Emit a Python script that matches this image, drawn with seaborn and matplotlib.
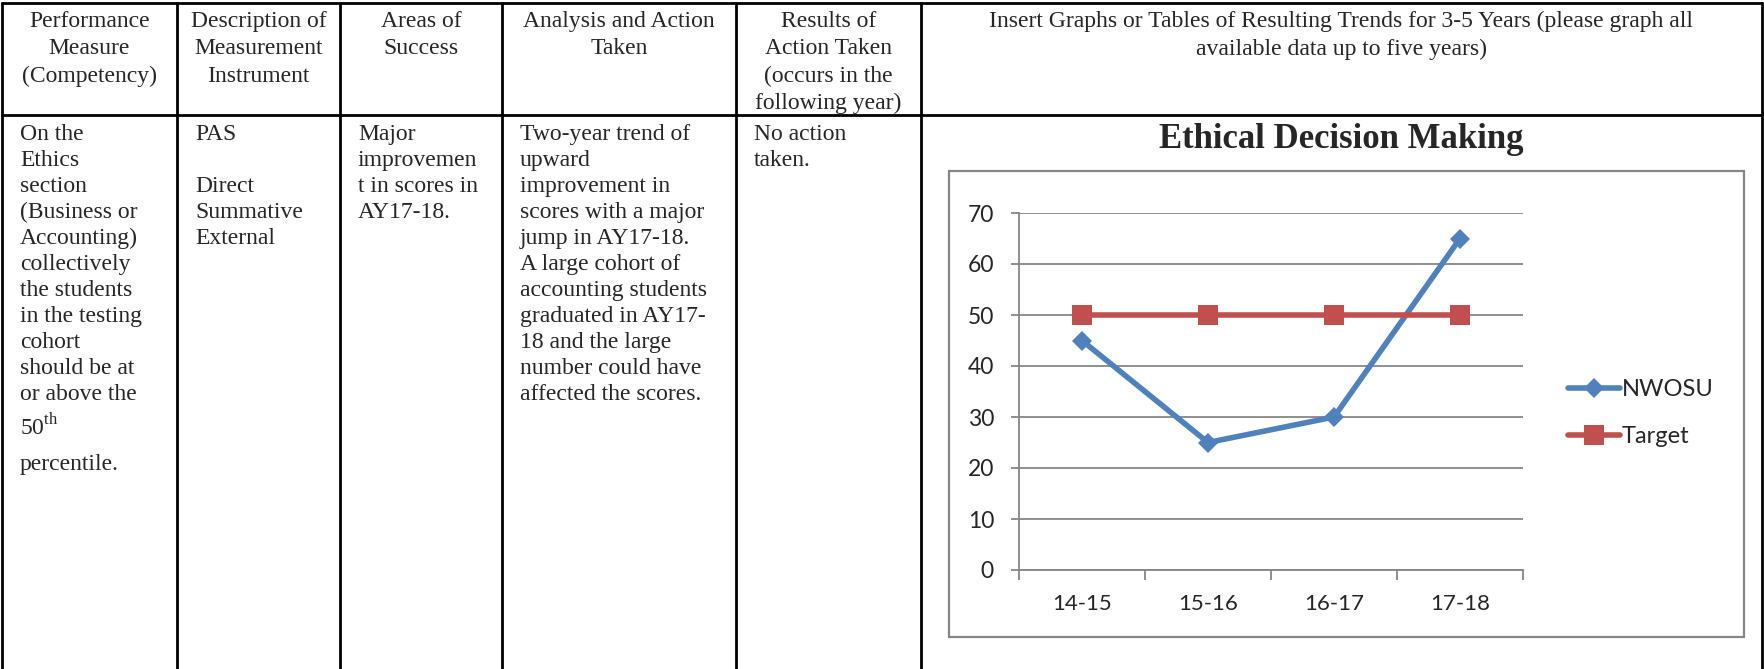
import matplotlib
matplotlib.use("Agg")
import matplotlib.pyplot as plt
import seaborn as sns
import pandas as pd
from matplotlib.patches import Rectangle

# chart data
years = ["14-15", "15-16", "16-17", "17-18"]
nwosu = [45, 25, 30, 65]
target = [50, 50, 50, 50]
y_ticks = [0, 10, 20, 30, 40, 50, 60, 70]
chart_title = "Ethical Decision Making"

# table text
headers = [
    ["Performance", "Measure", "(Competency)"],
    ["Description of", "Measurement", "Instrument"],
    ["Areas of", "Success"],
    ["Analysis and Action", "Taken"],
    ["Results of", "Action Taken", "(occurs in the", "following year)"],
    ["Insert Graphs or Tables of Resulting Trends for 3-5 Years (please graph all",
     "available data up to five years)"],
]
col1 = ["On the", "Ethics", "section", "(Business or", "Accounting)", "collectively",
        "the students", "in the testing", "cohort", "should be at", "or above the"]
col1_tail = ["50$^{\\mathrm{th}}$", "percentile."]
col2 = ["PAS", "", "Direct", "Summative", "External"]
col3 = ["Major", "improvemen", "t in scores in", "AY17-18."]
col4 = ["Two-year trend of", "upward", "improvement in", "scores with a major",
        "jump in AY17-18.", "A large cohort of", "accounting students",
        "graduated in AY17-", "18 and the large", "number could have",
        "affected the scores."]
col5 = ["No action", "taken."]

W, H = 1765, 669
col_edges = [2, 177, 340, 502, 736, 921, 1762]

sns.set_theme(style="white")
plt.rcParams["font.family"] = "Liberation Serif"
plt.rcParams["mathtext.fontset"] = "custom"
plt.rcParams["mathtext.rm"] = "Liberation Serif"

fig = plt.figure(figsize=(W / 100, H / 100), dpi=100)
canvas = fig.add_axes([0, 0, 1, 1])
canvas.set_xlim(0, W)
canvas.set_ylim(H, 0)
canvas.axis("off")

# table grid
for x in col_edges:
    canvas.plot([x, x], [2, H], color="black", lw=2, solid_capstyle="butt")
for y in [3, 115]:
    canvas.plot([col_edges[0], col_edges[-1]], [y, y], color="black", lw=2)

# header cells
fs = 17
for i, lines in enumerate(headers):
    cx = (col_edges[i] + col_edges[i + 1]) / 2
    for j, t in enumerate(lines):
        canvas.text(cx, 27 + 27.5 * j, t, ha="center", va="baseline", fontsize=fs)

# body cells
for i, lines in enumerate([col1, col2, col3, col4, col5]):
    x0 = col_edges[i] + 18
    for j, t in enumerate(lines):
        canvas.text(x0, 140 + 26 * j, t, ha="left", va="baseline", fontsize=fs)
for j, t in enumerate(col1_tail):
    canvas.text(col_edges[0] + 18, 140 + 26 * 10 + 35 * (j + 1), t,
                ha="left", va="baseline", fontsize=fs)

# chart frame and title
canvas.add_patch(Rectangle((949, 171), 795, 466, fill=False, edgecolor="#868686", lw=1.6))
canvas.text(1341, 140, chart_title, ha="center", va="center", fontsize=25, fontweight="bold")

# chart
ax = fig.add_axes([1019 / W, (H - 570) / H, 504 / W, 357 / H])
df = pd.DataFrame({
    "year": years * 2,
    "value": nwosu + target,
    "series": ["NWOSU"] * len(years) + ["Target"] * len(years),
})
styles = {
    "NWOSU": dict(color="#4F81BD", marker="D", markersize=10.5),
    "Target": dict(color="#C0504D", marker="s", markersize=14.5),
}
for name, st in styles.items():
    sns.lineplot(data=df[df["series"] == name], x="year", y="value", ax=ax,
                 label=name, linewidth=4, markeredgewidth=0, zorder=3, **st)

ax.set_xlim(-0.5, len(years) - 0.5)
ax.set_ylim(0, 70)
ax.set_yticks(y_ticks)
ax.set_xticks([i - 0.5 for i in range(len(years) + 1)], minor=True)
ax.set_xlabel("")
ax.set_ylabel("")
ax.grid(axis="y", color="#868686", lw=1.3)
ax.set_axisbelow(True)
for s in ["top", "right"]:
    ax.spines[s].set_visible(False)
for s in ["left", "bottom"]:
    ax.spines[s].set_color("#868686")
    ax.spines[s].set_linewidth(1.3)
ax.tick_params(axis="y", left=True, length=6, width=1.3, color="#868686", pad=12,
               labelsize=16.5, labelfontfamily="Lato")
ax.tick_params(axis="x", which="major", bottom=False, length=0, pad=17,
               labelsize=16, labelfontfamily="Lato")
ax.tick_params(axis="x", which="minor", bottom=True, length=7, width=1.3, color="#868686",
               direction="out")

ax.legend(loc="center left", bbox_to_anchor=(1.065, 0.44), frameon=False,
          prop={"family": "Lato", "size": 17}, handlelength=2.2, handletextpad=0.1,
          labelspacing=1.1, borderpad=0)

fig.savefig("out.png", dpi=100)
